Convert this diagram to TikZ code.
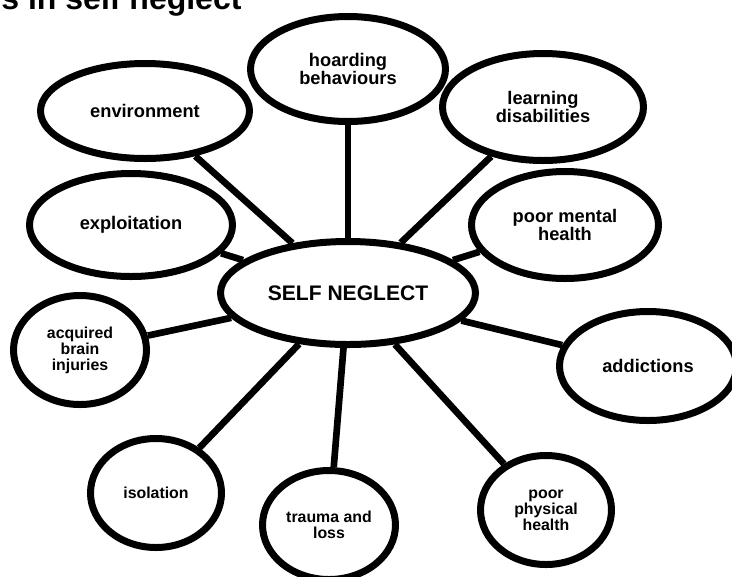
\documentclass[tikz,border=0pt]{standalone}
\usepackage{fontspec}
\setmainfont{Liberation Sans}
\usetikzlibrary{shapes.geometric}

\tikzset{every picture/.style={line width=0.75pt}}
\tikzset{
  bubble/.style={draw, ellipse, line width=5.25pt, fill=white, inner sep=0pt, align=center,
    font=\fontsize{13.7}{13.6}\selectfont\bfseries},
  smalltext/.style={font=\fontsize{11.9}{12}\selectfont\bfseries},
  link/.style={line width=5pt},
}

\begin{document}
\begin{tikzpicture}[x=0.75pt,y=0.75pt,yscale=-1,xscale=1]
\useasboundingbox (0,0) rectangle (732,576);

% Title (cut at the top)
\node (title) [anchor=base east, inner sep=0pt, font=\fontsize{24}{28}\selectfont\bfseries] at (242,9.5) {s in self neglect};

%Shape: Ellipse (centre)
\node (sn) [bubble, minimum width=191.25pt, minimum height=77.25pt, font=\fontsize{15.8}{16}\selectfont\bfseries] at (348,293) {SELF NEGLECT};

%Shape: Ellipse
\node (hoard) [bubble, minimum width=146.25pt, minimum height=78.75pt] at (348,69) {hoarding\\behaviours};
%Shape: Ellipse
\node (env) [bubble, minimum width=156.75pt, minimum height=71.25pt] at (145,111) {environment};
%Shape: Ellipse
\node (learn) [bubble, minimum width=150.75pt, minimum height=80.25pt] at (543,107) {learning\\disabilities};
%Shape: Ellipse
\node (mental) [bubble, minimum width=140.25pt, minimum height=80.25pt] at (565,225) {poor mental\\health};
%Shape: Ellipse
\node (expl) [bubble, minimum width=152.25pt, minimum height=77.25pt] at (131,225) {exploitation};
%Shape: Ellipse
\node (acq) [bubble, smalltext, minimum width=99.75pt, minimum height=81.75pt] at (80,350) {acquired\\brain\\injuries};
%Shape: Ellipse
\node (add) [bubble, minimum width=132.75pt, minimum height=81.75pt] at (648,366) {addictions};
%Shape: Ellipse
\node (iso) [bubble, smalltext, minimum width=98.25pt, minimum height=81.75pt] at (156,493) {isolation};
%Shape: Ellipse
\node (trauma) [bubble, smalltext, minimum width=99.75pt, minimum height=81.75pt] at (329,525) {trauma and\\loss};
%Shape: Ellipse
\node (phys) [bubble, smalltext, minimum width=98.25pt, minimum height=81.75pt] at (546,510) {poor\\physical\\health};

%Straight Lines
\foreach \leaf in {hoard,env,learn,mental,expl,acq,add,iso,trauma,phys}
  \draw [link] (sn) -- (\leaf);

\end{tikzpicture}
\end{document}
